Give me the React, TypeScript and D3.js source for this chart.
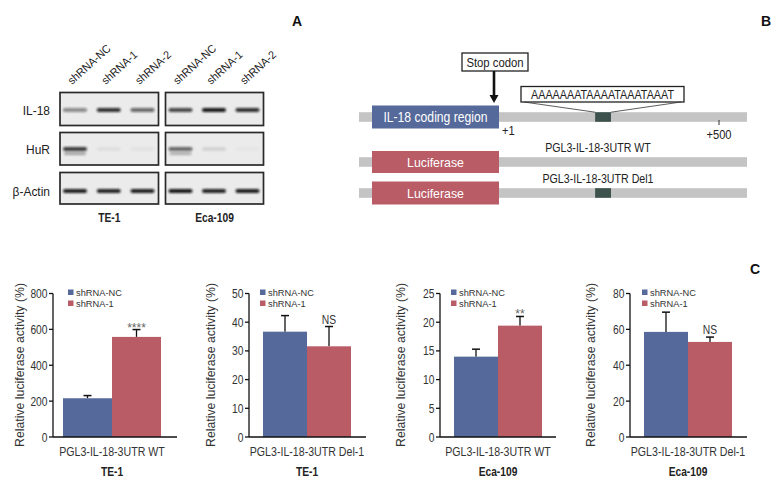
import React from "react";
import * as d3 from "d3";

// ---------- Panel A data ----------
const laneLabels = ["shRNA-NC", "shRNA-1", "shRNA-2"];
const cellLines = ["TE-1", "Eca-109"];
const blotRows = ["IL-18", "HuR", "β-Actin"];
// band intensity per row, per cell line, per lane
const il18Bands = [[0.45, 0.85, 0.6], [0.75, 0.95, 0.85]];
const hurBands = [[0.8, 0.05, 0.04], [0.6, 0.1, 0.02]];
const hurLowerBands = [[0.35, 0.0, 0.0], [0.3, 0.0, 0.0]];
const actinBands = [[0.92, 0.9, 0.92], [0.95, 0.9, 0.93]];

// ---------- Panel B data ----------
const schematicLabels = ["IL-18 coding region", "Luciferase", "Luciferase"];
const constructLabels = ["", "PGL3-IL-18-3UTR WT", "PGL3-IL-18-3UTR Del1"];
const motifText = "AAAAAAATAAAATAAATAAAT";
const stopLabel = "Stop codon";
const positionLabels = ["+1", "+500"];

// ---------- Panel C data ----------
const seriesNames = ["shRNA-NC", "shRNA-1"];
const chartConstructs = ["PGL3-IL-18-3UTR WT", "PGL3-IL-18-3UTR Del-1", "PGL3-IL-18-3UTR WT", "PGL3-IL-18-3UTR Del-1"];
const chartCells = ["TE-1", "TE-1", "Eca-109", "Eca-109"];
const ncValues = [216, 36.7, 14.0, 58.6];
const ncErrors = [15, 5.6, 1.3, 11.0];
const sh1Values = [558, 31.6, 19.4, 53.0];
const sh1Errors = [41, 6.9, 1.6, 2.7];
const yMaxes = [800, 50, 25, 80];
const yTickSteps = [200, 10, 5, 20];
const sigLabels = ["****", "NS", "**", "NS"];
const yAxisTitle = "Relative luciferase activity (%)";

const FONT = "'Liberation Sans',Arial,Helvetica,sans-serif";
const BLUE = "#55699a";
const RED = "#b95c66";
const GRAY = "#c4c4c4";
const DARK = "#3e524d";

function T({ x, y, size, sx = 1, anchor = "start", weight = "normal", fill = "#222", rotate = 0, children }: any) {
  const tr = `translate(${x},${y})${rotate ? ` rotate(${rotate})` : ""} scale(${sx},1)`;
  return (
    <text transform={tr} textAnchor={anchor} fontFamily={FONT} fontSize={size} fontWeight={weight} fill={fill}>
      {children}
    </text>
  );
}

function Blot() {
  const boxX = [[60, 158.5], [165.5, 263.5]];
  const rowY = [[92.5, 125.5], [132.5, 165], [172.5, 204]];
  const bandY = [110, 149, 191];
  const rowsData = [il18Bands, hurBands, actinBands];
  return (
    <g>
      <defs>
        <filter id="bandBlur" x="-50%" y="-200%" width="200%" height="500%">
          <feGaussianBlur stdDeviation="1.1 0.9" />
        </filter>
      </defs>
      {cellLines.map((cl, ci) => {
        const lane = d3.scalePoint<string>().domain(laneLabels).range([boxX[ci][0] + 15, boxX[ci][1] - 16]);
        return (
          <g key={cl}>
            {laneLabels.map((l) => (
              <T key={l} x={(lane(l) as number) - 3} y={85} rotate={-42} size={11.3} sx={0.95}>{l}</T>
            ))}
            {blotRows.map((r, ri) => (
              <g key={r}>
                <rect x={boxX[ci][0]} y={rowY[ri][0]} width={boxX[ci][1] - boxX[ci][0]} height={rowY[ri][1] - rowY[ri][0]} fill="#ebebeb" stroke="#2a2a2a" strokeWidth={1.7} />
                {laneLabels.map((l, li) => {
                  const v = rowsData[ri][ci][li];
                  const cx = lane(l) as number;
                  return (
                    <g key={l} filter="url(#bandBlur)">
                      <rect x={cx - 12} y={bandY[ri] - 2} width={24} height={4} rx={2} fill="#111" opacity={v} />
                      {ri === 1 && hurLowerBands[ci][li] > 0 && (
                        <rect x={cx - 11} y={bandY[ri] + 3} width={22} height={3} rx={1.5} fill="#222" opacity={hurLowerBands[ci][li]} />
                      )}
                    </g>
                  );
                })}
              </g>
            ))}
            <T x={(boxX[ci][0] + boxX[ci][1]) / 2} y={222} anchor="middle" weight="bold" size={12.5} sx={0.82}>{cl}</T>
          </g>
        );
      })}
      {blotRows.map((r, ri) => (
        <T key={r} x={50} y={bandY[ri] + 4.5} anchor="end" size={13} sx={0.92}>{r}</T>
      ))}
      <T x={297} y={26} anchor="middle" weight="bold" size={14} fill="#111">A</T>
    </g>
  );
}

function Schematic() {
  const pos = d3.scaleLinear().domain([1, 500]).range([499, 719]);
  const bars = [117, 162, 193];
  const boxH = [23, 22, 23];
  const motifX0 = pos(219);
  const motifX1 = pos(255);
  return (
    <g>
      {bars.map((cy, i) => (
        <g key={i}>
          <rect x={359} y={cy - 4.8} width={388} height={9.6} fill={GRAY} />
          {i !== 1 && <rect x={motifX0} y={cy - 4.8} width={motifX1 - motifX0} height={9.6} fill={DARK} />}
          <rect x={372} y={cy - boxH[i] / 2} width={127} height={boxH[i]} fill={i === 0 ? BLUE : RED} />
          <T x={435.5} y={cy + 5} anchor="middle" fill="#fff" size={i === 0 ? 14 : 13} sx={i === 0 ? 0.87 : 0.95}>{schematicLabels[i]}</T>
          {constructLabels[i] && (
            <T x={598} y={cy - 10} anchor="middle" size={12.5} sx={0.85}>{constructLabels[i]}</T>
          )}
        </g>
      ))}
      {/* stop codon */}
      <rect x={462} y={53} width={66} height={18} fill="#fff" stroke="#222" strokeWidth={1.3} />
      <T x={495} y={66.5} anchor="middle" size={13} sx={0.87}>{stopLabel}</T>
      <line x1={494} y1={71} x2={494} y2={96} stroke="#111" strokeWidth={2.6} />
      <path d="M489.5,95 L498.5,95 L494,103 Z" fill="#111" />
      {/* motif */}
      <rect x={521} y={86.5} width={163} height={15.5} fill="#fff" stroke="#222" strokeWidth={1.3} />
      <T x={602.5} y={99} anchor="middle" size={13} sx={0.83}>{motifText}</T>
      <line x1={524} y1={102} x2={motifX0} y2={112.2} stroke="#333" strokeWidth={0.8} />
      <line x1={681} y1={102} x2={motifX1} y2={112.2} stroke="#333" strokeWidth={0.8} />
      {/* position marks */}
      <T x={pos(1) + 3} y={135} size={12.5} sx={0.89}>{positionLabels[0]}</T>
      <line x1={pos(500)} y1={120} x2={pos(500)} y2={125} stroke="#333" strokeWidth={1} />
      <T x={pos(500)} y={139} anchor="middle" size={12.5} sx={0.89}>{positionLabels[1]}</T>
      <T x={766} y={26} anchor="middle" weight="bold" size={14} fill="#111">B</T>
    </g>
  );
}

function BarPanel({ i, axisX, xEnd, titleDx, legDx }: { i: number; axisX: number; xEnd: number; titleDx: number; legDx: number }) {
  const y = d3.scaleLinear().domain([0, yMaxes[i]]).range([437, 293.5]);
  const x = d3.scaleBand<string>().domain(seriesNames).range(i === 0 ? [axisX + 10, axisX + 108] : [axisX + 14, axisX + 102]).padding(0);
  const ticks = d3.range(0, yMaxes[i] + yTickSteps[i] / 2, yTickSteps[i]);
  const vals = [ncValues[i], sh1Values[i]];
  const errs = [ncErrors[i], sh1Errors[i]];
  const colors = [BLUE, RED];
  const center = (x(seriesNames[0])! + x(seriesNames[1])! + x.bandwidth()) / 2;
  const errTop = y(vals[1] + errs[1]);
  const isStar = sigLabels[i].includes("*");
  return (
    <g>
      {seriesNames.map((s, k) => {
        const bx = x(s)!;
        const cx = bx + x.bandwidth() / 2;
        const top = y(vals[k] + errs[k]);
        return (
          <g key={s}>
            <line x1={cx} x2={cx} y1={y(vals[k])} y2={top} stroke="#111" strokeWidth={1.3} />
            <line x1={cx - 4} x2={cx + 4} y1={top} y2={top} stroke="#111" strokeWidth={1.5} />
            <rect x={bx} y={y(vals[k])} width={x.bandwidth()} height={437 - y(vals[k])} fill={colors[k]} />
          </g>
        );
      })}
      {/* axes */}
      <line x1={axisX} x2={axisX} y1={y(yMaxes[i])} y2={437} stroke="#111" strokeWidth={1.3} />
      <line x1={axisX} x2={xEnd} y1={437} y2={437} stroke="#111" strokeWidth={1.3} />
      {ticks.map((t) => (
        <g key={t}>
          <line x1={axisX - 4} x2={axisX} y1={y(t)} y2={y(t)} stroke="#111" strokeWidth={1.3} />
          <T x={axisX - 5.5} y={y(t) + 4.5} anchor="end" size={12.5} sx={0.82} fill="#333">{t}</T>
        </g>
      ))}
      <T x={axisX + titleDx} y={365} rotate={-90} anchor="middle" size={12.3} fill="#333">{yAxisTitle}</T>
      {/* legend */}
      {seriesNames.map((s, k) => (
        <g key={s}>
          <rect x={axisX + legDx} y={289.5 + k * 11} width={5.5} height={5.5} fill={colors[k]} />
          <T x={axisX + legDx + 8} y={296 + k * 11} size={9.8} sx={0.95} fill="#333">{s}</T>
        </g>
      ))}
      <T x={x(seriesNames[1])! + x.bandwidth() / 2} y={isStar ? errTop + 2 : errTop - 3} anchor="middle" size={12} sx={isStar ? 1 : 0.86} fill={isStar ? "#666" : "#333"}>{sigLabels[i]}</T>
      <T x={center} y={456} anchor="middle" size={12.5} sx={0.85} fill="#333">{chartConstructs[i]}</T>
      <T x={center} y={476} anchor="middle" weight="bold" size={12.5} sx={0.82} fill="#222">{chartCells[i]}</T>
    </g>
  );
}

export default function App() {
  const axes = [53, 249, 440, 630];
  const ends = [177, 366, 556, 747];
  const titleDx = [-29, -34.3, -35.3, -35.3];
  const legDx = [15, 11, 11, 12];
  return (
    <svg width={776} height={484} style={{ position: "absolute", left: 0, top: 0, background: "#fff" }}>
      <rect width={776} height={484} fill="#fff" />
      <Blot />
      <Schematic />
      {axes.map((a, i) => (
        <BarPanel key={i} i={i} axisX={a} xEnd={ends[i]} titleDx={titleDx[i]} legDx={legDx[i]} />
      ))}
      <T x={755} y={274} anchor="middle" weight="bold" size={14} fill="#111">C</T>
    </svg>
  );
}
